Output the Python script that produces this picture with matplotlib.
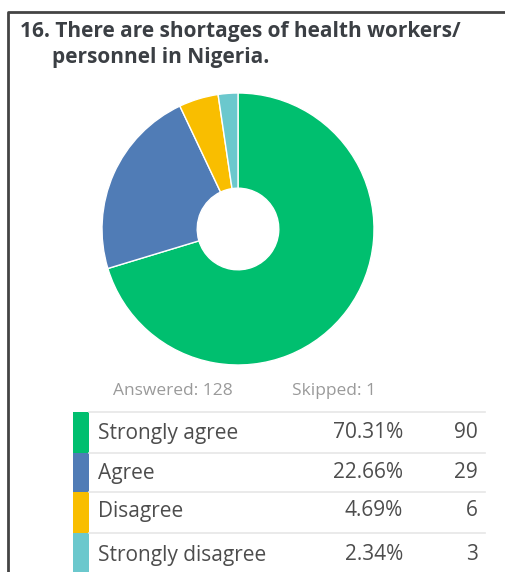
import matplotlib
matplotlib.use("Agg")
import matplotlib.pyplot as plt
from matplotlib.lines import Line2D
from matplotlib.patches import Rectangle

# survey question 16 results
labels = ["Strongly agree", "Agree", "Disagree", "Strongly disagree"]
percents = [70.31, 22.66, 4.69, 2.34]
counts = [90, 29, 6, 3]
colors = ["#00bf6f", "#507cb6", "#f9be00", "#6bc8cd"]
answered = 128
skipped = 1

W, H = 506, 572
fig = plt.figure(figsize=(W / 100, H / 100), dpi=100)
fig.patch.set_facecolor("white")


def fx(x):
    return x / W


def fy(y):
    return 1 - y / H


# frame (left and top edges)
fig.add_artist(Line2D([fx(8), fx(8), fx(W)], [fy(H), fy(12), fy(12)],
                      color="#444444", lw=2, transform=fig.transFigure))

# title
title_kw = dict(fontsize=15, fontweight="bold", color="#3b3f44",
                family="Open Sans", va="baseline", ha="left")
fig.text(fx(20), fy(37), "16. There are shortages of health workers/", **title_kw)
fig.text(fx(52), fy(63), "personnel in Nigeria.", **title_kw)

# donut
cx, cy, r = 238, 229, 136
ax = fig.add_axes([fx(cx - r), fy(cy + r), 2 * r / W, 2 * r / H])
ax.pie(percents, colors=colors, startangle=90, counterclock=False,
       radius=1.0, wedgeprops=dict(width=0.7, edgecolor="white", linewidth=1))
ax.set_xlim(-1, 1)
ax.set_ylim(-1, 1)
ax.set_aspect("equal")
ax.axis("off")

# answered / skipped
fig.text(fx(113), fy(395), "Answered: %d" % answered, fontsize=12.5,
         color="#9a9a9a", family="Open Sans", va="baseline")
fig.text(fx(292), fy(395), "Skipped: %d" % skipped, fontsize=12.5,
         color="#9a9a9a", family="Open Sans", va="baseline")

# table rows
row_top = [412, 453, 492, 533]
row_bot = [453, 492, 533, 574]
row_mid = [433, 473, 511, 555]
for i, lab in enumerate(labels):
    t, b = row_top[i], row_bot[i]
    fig.add_artist(Rectangle((fx(73), fy(b)), fx(89) - fx(73), fy(t) - fy(b),
                             facecolor=colors[i], edgecolor="none",
                             transform=fig.transFigure))
    fig.add_artist(Line2D([fx(89), fx(485)], [fy(t), fy(t)], color="#e6e6e6",
                          lw=1.2, transform=fig.transFigure))
    ym = fy(row_mid[i])
    kw = dict(fontsize=15, color="#4d4d4d", family="Open Sans", va="center")
    fig.text(fx(98), ym, lab, ha="left", **kw)
    fig.text(fx(403), ym, "%.2f%%" % percents[i], ha="right", **kw)
    fig.text(fx(478), ym, "%d" % counts[i], ha="right", **kw)

fig.savefig("out.png", dpi=100, facecolor="white")
